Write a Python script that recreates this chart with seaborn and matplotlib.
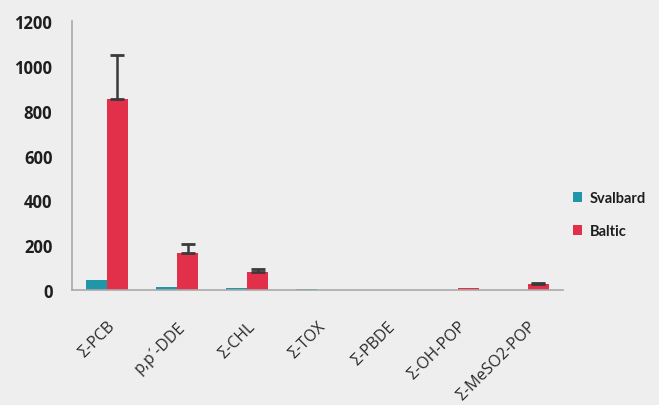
import matplotlib
matplotlib.use("Agg")
import matplotlib.pyplot as plt
import numpy as np
import pandas as pd
import seaborn as sns

# Values
categories = ["Σ-PCB", "p,p´-DDE", "Σ-CHL", "Σ-TOX", "Σ-PBDE", "Σ-OH-POP", "Σ-MeSO2-POP"]
svalbard = [45, 15, 8, 5, 2, 1, 2]
baltic = [850, 165, 80, 1, 2, 8, 25]
svalbard_err = [0, 0, 0, 0, 0, 0, 0]
baltic_err = [200, 40, 15, 0, 0, 0, 7]
series = ["Svalbard", "Baltic"]
colors = ["#1f97a8", "#e2304a"]
yticks = [0, 200, 400, 600, 800, 1000, 1200]

df = pd.DataFrame({
    "category": categories * 2,
    "site": [series[0]] * len(categories) + [series[1]] * len(categories),
    "value": svalbard + baltic,
    "err": svalbard_err + baltic_err,
})

sns.set_style("white")
plt.rcParams["font.family"] = ["Open Sans", "DejaVu Sans"]
bg = "#eeeeee"

fig = plt.figure(figsize=(6.59, 4.06), dpi=100, facecolor=bg)
ax = fig.add_axes([0.109, 0.283, 0.745, 0.663])
ax.set_facecolor(bg)

sns.barplot(data=df, x="category", y="value", hue="site", order=categories,
            hue_order=series, palette=colors, width=0.6, saturation=1,
            errorbar=None, ax=ax, edgecolor="none")

# upward-only error bars placed on the bars drawn by seaborn
for container, s in zip(ax.containers, series):
    errs = df[df["site"] == s].set_index("category").loc[categories, "err"].values
    for bar, e in zip(container, errs):
        if e > 0:
            x = bar.get_x() + bar.get_width() / 2
            h = bar.get_height()
            ax.errorbar(x, h, yerr=[[0], [e]], fmt="none", ecolor="#3a3a3a",
                        elinewidth=1.8, capsize=5, capthick=2)

ax.set_xlim(-0.5, len(categories) - 0.5)
ax.set_ylim(0, 1200)
ax.set_yticks(yticks)
ax.set_yticklabels([str(v) for v in yticks], fontsize=12, fontweight="bold", color="#1e1e1e")
ax.set_xticks(range(len(categories)))
ax.set_xticklabels(categories, rotation=45, ha="right", rotation_mode="anchor",
                   fontsize=11.5, color="#2a2a2a")
ax.set_xlabel("")
ax.set_ylabel("")
ax.tick_params(axis="y", length=3, color="#aaaaaa", pad=11)
ax.tick_params(axis="x", length=0, pad=20)

for side in ["top", "right"]:
    ax.spines[side].set_visible(False)
for side in ["left", "bottom"]:
    ax.spines[side].set_color("#aaaaaa")
    ax.spines[side].set_linewidth(1.2)

leg = ax.legend(loc="center left", bbox_to_anchor=(0.995, 0.28), frameon=False,
                handlelength=0.6, handleheight=0.6, handletextpad=0.5,
                labelspacing=1.3, prop={"family": "Lato", "size": 10.5, "weight": "bold"})
for t in leg.get_texts():
    t.set_color("#1e1e1e")

fig.savefig("out.png", dpi=100, facecolor=bg)
